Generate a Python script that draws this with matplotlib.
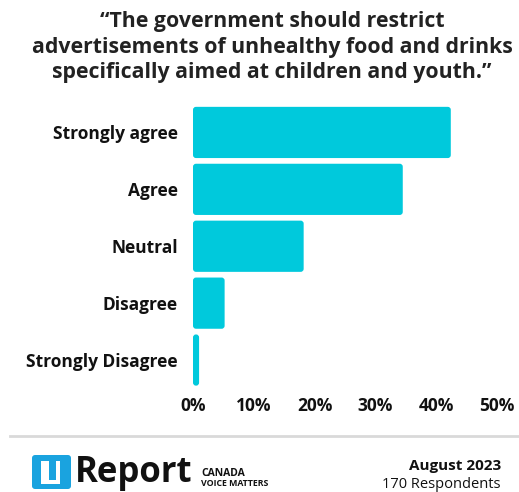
import matplotlib
matplotlib.use("Agg")
import matplotlib.pyplot as plt
from matplotlib.patches import FancyBboxPatch, Rectangle
from matplotlib.lines import Line2D

categories = ["Strongly agree", "Agree", "Neutral", "Disagree", "Strongly Disagree"]
values = [42.4, 34.5, 18.2, 5.2, 1.0]
xticks = [0, 10, 20, 30, 40, 50]
xtick_labels = ["0%", "10%", "20%", "30%", "40%", "50%"]
title = "\u201cThe government should restrict\nadvertisements of unhealthy food and drinks\nspecifically aimed at children and youth.\u201d"

BAR = "#00C9DC"
FONT = "Open Sans"
W, H = 519, 492
fig = plt.figure(figsize=(W / 100, H / 100), dpi=100)
fig.patch.set_facecolor("white")

ax = fig.add_axes([193 / W, 1 - 388.5 / H, (497 - 193) / W, (388.5 - 104) / H])
ax.set_xlim(0, 50)
ax.set_ylim(len(categories) - 0.5, -0.5)
ypos = list(range(len(categories)))
bars = ax.barh(ypos, values, height=0.9, color=BAR)
xpx = (497 - 193) / 50.0
ypx = (388.5 - 104) / 5.0
r = 3.0
for b in bars:
    x0, y0 = b.get_x(), b.get_y()
    w, h = b.get_width(), b.get_height()
    b.set_visible(False)
    rs = min(r / xpx, w / 2)
    p = FancyBboxPatch((x0, y0), w, h,
                       boxstyle=f"round,pad=0,rounding_size={rs}",
                       mutation_aspect=(xpx / ypx),
                       facecolor=BAR, edgecolor="none")
    ax.add_patch(p)

ax.set_yticks(ypos)
ax.set_yticklabels(categories, fontsize=12.5, fontweight="bold", family=FONT, color="#111111")
ax.set_xticks(xticks)
ax.set_xticklabels(xtick_labels, fontsize=12.5, fontweight="bold", family=FONT, color="#111111")
ax.tick_params(axis="both", length=0)
ax.tick_params(axis="y", pad=11)
ax.tick_params(axis="x", pad=6)
for s in ax.spines.values():
    s.set_visible(False)
ax.set_facecolor("white")

fig.text(272 / W, 1 - 47 / H, title, ha="center", va="center", fontsize=15.3,
         fontweight="bold", family=FONT, color="#222222", linespacing=1.28)

# divider
fig.add_artist(Line2D([10 / W, 1.0], [1 - 436 / H, 1 - 436 / H], color="#d9d9d9", lw=2))

# footer right
fig.text(501 / W, 1 - 466 / H, "August 2023", ha="right", va="center", fontsize=11,
         fontweight="bold", family=FONT, color="#111111")
fig.text(501 / W, 1 - 484 / H, "170 Respondents", ha="right", va="center", fontsize=10.5,
         family=FONT, color="#111111")

# logo
lx0, lx1 = 32 / W, 71 / W
ly0, ly1 = 1 - 489 / H, 1 - 455 / H
fig.add_artist(FancyBboxPatch((lx0, ly0), lx1 - lx0, ly1 - ly0,
                              boxstyle="round,pad=0,rounding_size=0.006",
                              transform=fig.transFigure, facecolor="#1AA3DF", edgecolor="none"))
for (x, y, w, h) in [(41, 461, 8, 23), (41, 480, 19, 4), (56, 461, 4, 23)]:
    fig.add_artist(Rectangle((x / W, 1 - (y + h) / H), w / W, h / H,
                             transform=fig.transFigure, facecolor="white", edgecolor="none"))
fig.text(75 / W, 1 - 473 / H, "Report", ha="left", va="center", fontsize=25,
         fontweight="bold", family=FONT, color="#111111")
fig.text(201 / W, 1 - 473 / H, "CANADA", ha="left", va="center", fontsize=7.5,
         fontweight="bold", family=FONT, color="#111111")
fig.text(201 / W, 1 - 484 / H, "VOICE MATTERS", ha="left", va="center", fontsize=6.3,
         fontweight="bold", family=FONT, color="#111111")

fig.savefig("out.png", dpi=100, facecolor="white")
